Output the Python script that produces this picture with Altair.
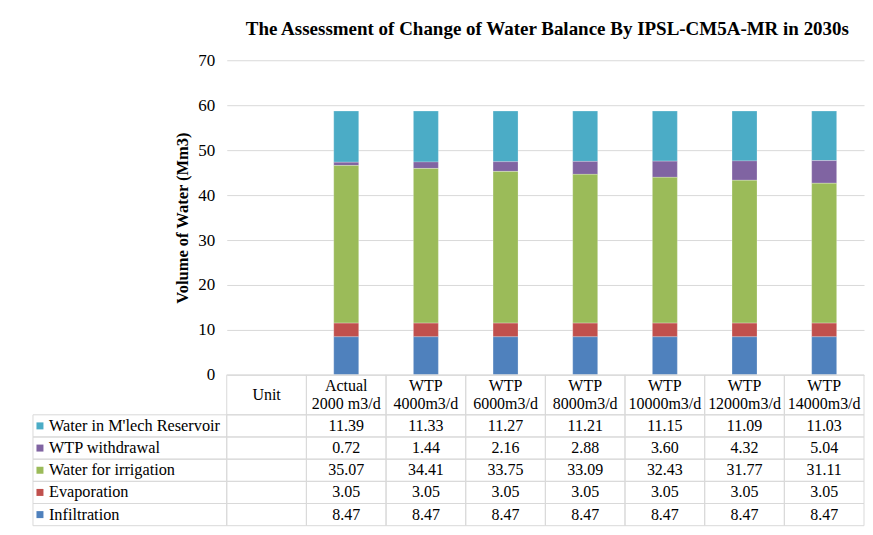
import altair as alt
import pandas as pd

# ---------------- data ----------------
title_text = "The Assessment of Change of Water Balance By IPSL-CM5A-MR in 2030s"
columns = ["Unit", "Actual\n2000 m3/d", "WTP\n4000m3/d", "WTP\n6000m3/d", "WTP\n8000m3/d",
           "WTP\n10000m3/d", "WTP\n12000m3/d", "WTP\n14000m3/d"]
scenarios = columns[1:]
series_top_down = ["Water in M'lech Reservoir", "WTP withdrawal", "Water for irrigation",
                   "Evaporation", "Infiltration"]
reservoir = [11.39, 11.33, 11.27, 11.21, 11.15, 11.09, 11.03]
withdrawal = [0.72, 1.44, 2.16, 2.88, 3.60, 4.32, 5.04]
irrigation = [35.07, 34.41, 33.75, 33.09, 32.43, 31.77, 31.11]
evaporation = [3.05, 3.05, 3.05, 3.05, 3.05, 3.05, 3.05]
infiltration = [8.47, 8.47, 8.47, 8.47, 8.47, 8.47, 8.47]
colors_top_down = ["#4BACC6", "#8064A2", "#9BBB59", "#C0504D", "#4F81BD"]

values_by_series = {
    "Water in M'lech Reservoir": reservoir,
    "WTP withdrawal": withdrawal,
    "Water for irrigation": irrigation,
    "Evaporation": evaporation,
    "Infiltration": infiltration,
}
stack_order = {s: i for i, s in enumerate(reversed(series_top_down))}  # Infiltration at bottom

FONT = "Liberation Serif"
GRID = "#d9d9d9"
W = 638          # plot / table width
PLOT_H = 315     # bar plot height
TABLE_H = 151    # table height
LEG_PX = 194     # legend column width

rows = []
for s in series_top_down:
    for c, v in zip(scenarios, values_by_series[s]):
        rows.append({"scenario": c, "series": s, "value": v, "order": stack_order[s]})
df = pd.DataFrame(rows)

color_scale = alt.Scale(domain=series_top_down, range=colors_top_down)

# ---------------- bar chart ----------------
bars = alt.Chart(df).mark_bar(size=25, stroke="white", strokeWidth=0.4, strokeOpacity=0.6).encode(
    x=alt.X("scenario:N", scale=alt.Scale(domain=columns, paddingInner=0, paddingOuter=0),
            axis=None, sort=columns),
    y=alt.Y("value:Q", stack="zero",
            scale=alt.Scale(domain=[0, 70]),
            axis=alt.Axis(values=list(range(0, 71, 10)), title="Volume of Water (Mm3)",
                          titleFont=FONT, titleFontSize=16.5, titleFontWeight="bold",
                          titleColor="black", titlePadding=7.5,
                          labelFont=FONT, labelFontSize=17, labelColor="black",
                          labelPadding=12, ticks=False, domain=False,
                          gridColor=GRID, gridWidth=1)),
    color=alt.Color("series:N", scale=color_scale, legend=None),
    order=alt.Order("order:Q"),
).properties(
    width=W, height=PLOT_H,
    title=alt.TitleParams(title_text, font=FONT, fontSize=19, fontWeight="bold",
                          color="black", anchor="middle", offset=12, dx=2),
)

# ---------------- data table ----------------
LEG = LEG_PX / (W / len(columns))   # legend column width in column units
HDR = 1.8                            # header row height in row units
NROW = HDR + len(series_top_down)

cells = []
# header cells
for i, c in enumerate(columns):
    cells.append({"x0": i, "x1": i + 1, "y0": 0, "y1": HDR, "xm": i + 0.5, "ym": HDR / 2,
                  "text": c.split("\n"), "kind": "head2" if "\n" in c else "head1"})
# body cells
for k, s in enumerate(series_top_down):
    y0 = HDR + k
    cells.append({"x0": -LEG, "x1": 0, "y0": y0, "y1": y0 + 1, "xm": -LEG, "ym": y0 + 0.5,
                  "text": s, "kind": "legend", "series": s})
    cells.append({"x0": 0, "x1": 1, "y0": y0, "y1": y0 + 1, "xm": 0.5, "ym": y0 + 0.5,
                  "text": "", "kind": "body"})
    for i, v in enumerate(values_by_series[s]):
        cells.append({"x0": i + 1, "x1": i + 2, "y0": y0, "y1": y0 + 1, "xm": i + 1.5,
                      "ym": y0 + 0.5, "text": f"{v:.2f}", "kind": "body"})
cdf = pd.DataFrame(cells)

xs = alt.Scale(domain=[0, len(columns)], nice=False, zero=False)
ys = alt.Scale(domain=[0, NROW], reverse=True, nice=False, zero=False)

base = alt.Chart(cdf)
X = alt.X("xm:Q", scale=xs, axis=None)
Y = alt.Y("ym:Q", scale=ys, axis=None)

borders = base.mark_rect(fillOpacity=0, stroke=GRID, strokeWidth=1).encode(
    x=alt.X("x0:Q", scale=xs, axis=None), x2="x1:Q",
    y=alt.Y("y0:Q", scale=ys, axis=None), y2="y1:Q",
)
body_text = base.transform_filter(
    (alt.datum.kind == "body") | (alt.datum.kind == "head1")).mark_text(
    font=FONT, fontSize=16, color="black", baseline="middle").encode(
    x=X, y=Y, text="text")
head_text = base.transform_filter(alt.datum.kind == "head2").mark_text(
    font=FONT, fontSize=16, color="black", baseline="middle", lineHeight=18, dy=-9).encode(
    x=X, y=Y, text="text")
legend_text = base.transform_filter(alt.datum.kind == "legend").mark_text(
    font=FONT, fontSize=16.3, color="black", align="left", baseline="middle", dx=16).encode(
    x=X, y=Y, text="text:N")
legend_sq = base.transform_filter(alt.datum.kind == "legend").mark_square(
    size=49, opacity=1, xOffset=7).encode(
    x=X, y=Y, color=alt.Color("series:N", scale=color_scale, legend=None))

table = alt.layer(borders, body_text, head_text, legend_text, legend_sq).properties(
    width=W, height=TABLE_H)

chart = alt.vconcat(bars, table, spacing=0, bounds="flush").resolve_scale(
    color="shared").properties(
    padding={"left": 24, "top": 12, "right": 0, "bottom": 0}
).configure_view(stroke=None)

chart.save("out.html", embed_options={"renderer": "svg", "actions": False})
